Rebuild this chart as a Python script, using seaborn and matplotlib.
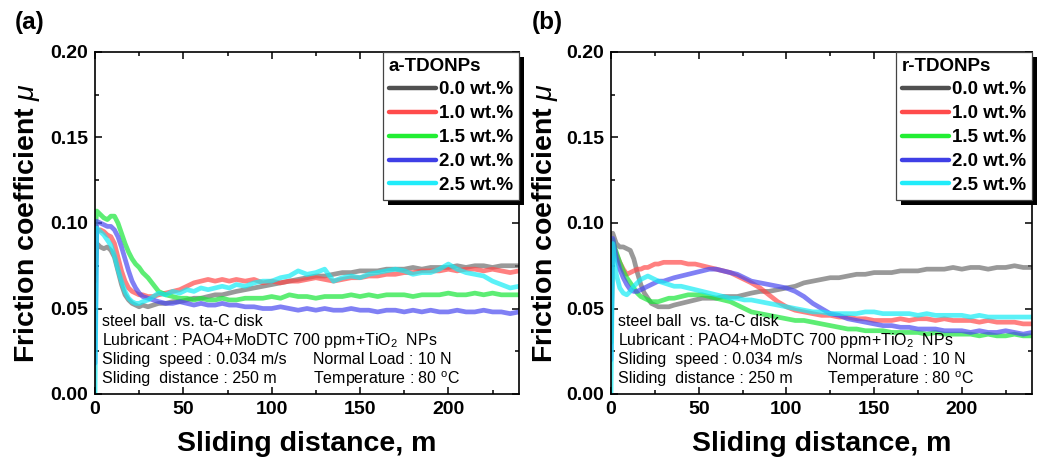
import matplotlib
matplotlib.use("Agg")
import matplotlib.pyplot as plt
import seaborn as sns
import pandas as pd
from matplotlib.ticker import MultipleLocator
from matplotlib.patches import Rectangle
from matplotlib.transforms import IdentityTransform

sns.set_style("ticks")
plt.rcParams['font.family'] = ['Liberation Sans', 'DejaVu Sans']
plt.rcParams['mathtext.fontset'] = 'custom'
plt.rcParams['mathtext.rm'] = 'Liberation Sans'
plt.rcParams['mathtext.it'] = 'Liberation Sans:italic'
plt.rcParams['mathtext.bf'] = 'Liberation Sans:bold'
plt.rcParams['text.color'] = 'black'
plt.rcParams['axes.labelcolor'] = 'black'
plt.rcParams['xtick.color'] = 'black'
plt.rcParams['ytick.color'] = 'black'

# ---------------- data ----------------
X = [0, 1, 3, 5, 7, 9, 11, 13, 15, 17, 19, 21, 23, 25, 27, 30, 33, 36, 40, 44, 48, 52, 56, 60,
     64, 68, 72, 76, 80, 85, 90, 95, 100, 105, 110, 115, 120, 125, 130, 135, 140, 145, 150, 155,
     160, 165, 170, 175, 180, 185, 190, 195, 200, 205, 210, 215, 220, 225, 230, 235, 240]

labels = ["0.0 wt.%", "1.0 wt.%", "1.5 wt.%", "2.0 wt.%", "2.5 wt.%"]

a_00 = [0.070, 0.088, 0.086, 0.085, 0.086, 0.084, 0.080, 0.072, 0.064, 0.058, 0.055, 0.053, 0.052, 0.051, 0.052,
        0.051, 0.052, 0.053, 0.053, 0.054, 0.054, 0.055, 0.056, 0.056, 0.057, 0.058, 0.058, 0.059, 0.060, 0.061,
        0.062, 0.063, 0.064, 0.065, 0.066, 0.067, 0.068, 0.069, 0.069, 0.070, 0.071, 0.071, 0.072, 0.072, 0.072,
        0.073, 0.073, 0.073, 0.074, 0.073, 0.074, 0.074, 0.074, 0.075, 0.074, 0.075, 0.075, 0.074, 0.075, 0.075, 0.075]
a_10 = [0.066, 0.095, 0.096, 0.095, 0.093, 0.092, 0.088, 0.080, 0.072, 0.066, 0.062, 0.060, 0.059, 0.058, 0.058,
        0.057, 0.057, 0.058, 0.059, 0.060, 0.061, 0.063, 0.065, 0.066, 0.067, 0.066, 0.067, 0.066, 0.067, 0.066,
        0.067, 0.065, 0.066, 0.065, 0.066, 0.066, 0.067, 0.068, 0.067, 0.066, 0.067, 0.068, 0.068, 0.069, 0.069,
        0.070, 0.070, 0.071, 0.071, 0.072, 0.072, 0.072, 0.073, 0.072, 0.073, 0.073, 0.072, 0.073, 0.072, 0.071, 0.072]
a_15 = [0.095, 0.107, 0.105, 0.103, 0.102, 0.104, 0.104, 0.100, 0.094, 0.088, 0.083, 0.079, 0.076, 0.074, 0.071,
        0.068, 0.064, 0.060, 0.058, 0.057, 0.056, 0.056, 0.055, 0.056, 0.055, 0.055, 0.056, 0.055, 0.055, 0.056,
        0.056, 0.056, 0.057, 0.056, 0.058, 0.057, 0.057, 0.056, 0.057, 0.057, 0.057, 0.058, 0.057, 0.058, 0.057,
        0.058, 0.058, 0.058, 0.057, 0.058, 0.058, 0.058, 0.059, 0.058, 0.058, 0.059, 0.058, 0.059, 0.058, 0.058, 0.058]
a_20 = [0.018, 0.101, 0.100, 0.099, 0.098, 0.098, 0.096, 0.092, 0.086, 0.079, 0.072, 0.066, 0.062, 0.059, 0.057,
        0.056, 0.055, 0.054, 0.053, 0.053, 0.054, 0.053, 0.052, 0.053, 0.052, 0.052, 0.053, 0.052, 0.052, 0.051,
        0.051, 0.050, 0.050, 0.051, 0.050, 0.049, 0.050, 0.049, 0.050, 0.049, 0.049, 0.050, 0.049, 0.049, 0.048,
        0.049, 0.049, 0.048, 0.049, 0.048, 0.049, 0.048, 0.048, 0.049, 0.048, 0.048, 0.049, 0.048, 0.048, 0.047, 0.048]
a_25 = [0.000, 0.097, 0.095, 0.093, 0.090, 0.087, 0.081, 0.073, 0.066, 0.060, 0.056, 0.054, 0.053, 0.053, 0.054,
        0.055, 0.057, 0.059, 0.058, 0.060, 0.059, 0.061, 0.060, 0.062, 0.061, 0.062, 0.063, 0.062, 0.064, 0.063,
        0.065, 0.066, 0.066, 0.068, 0.069, 0.072, 0.070, 0.071, 0.073, 0.066, 0.068, 0.069, 0.068, 0.070, 0.071,
        0.072, 0.073, 0.072, 0.070, 0.071, 0.071, 0.073, 0.076, 0.073, 0.071, 0.070, 0.069, 0.066, 0.064, 0.062, 0.063]

b_00 = [0.093, 0.094, 0.088, 0.086, 0.086, 0.085, 0.084, 0.079, 0.071, 0.064, 0.059, 0.056, 0.053, 0.052, 0.051,
        0.051, 0.051, 0.052, 0.053, 0.054, 0.055, 0.056, 0.056, 0.056, 0.057, 0.057, 0.057, 0.058, 0.059, 0.060,
        0.060, 0.061, 0.062, 0.063, 0.065, 0.066, 0.067, 0.068, 0.068, 0.069, 0.070, 0.070, 0.071, 0.071, 0.071,
        0.072, 0.072, 0.072, 0.073, 0.073, 0.073, 0.074, 0.073, 0.074, 0.074, 0.073, 0.074, 0.074, 0.075, 0.074, 0.074]
b_10 = [0.090, 0.088, 0.082, 0.077, 0.073, 0.070, 0.071, 0.072, 0.073, 0.073, 0.074, 0.074, 0.075, 0.076, 0.076,
        0.077, 0.077, 0.077, 0.077, 0.076, 0.076, 0.075, 0.074, 0.073, 0.072, 0.071, 0.069, 0.067, 0.065, 0.062,
        0.058, 0.054, 0.051, 0.049, 0.048, 0.047, 0.046, 0.046, 0.045, 0.045, 0.044, 0.044, 0.043, 0.043, 0.043,
        0.044, 0.043, 0.044, 0.044, 0.043, 0.044, 0.043, 0.043, 0.043, 0.042, 0.043, 0.042, 0.042, 0.042, 0.041, 0.041]
b_15 = [0.030, 0.090, 0.083, 0.077, 0.072, 0.068, 0.065, 0.062, 0.059, 0.057, 0.056, 0.055, 0.054, 0.054, 0.054,
        0.055, 0.056, 0.056, 0.057, 0.058, 0.058, 0.058, 0.057, 0.056, 0.055, 0.054, 0.052, 0.050, 0.048, 0.047,
        0.046, 0.045, 0.044, 0.043, 0.043, 0.042, 0.041, 0.040, 0.039, 0.038, 0.038, 0.037, 0.037, 0.037, 0.036,
        0.036, 0.036, 0.036, 0.035, 0.036, 0.035, 0.035, 0.035, 0.035, 0.034, 0.035, 0.034, 0.034, 0.035, 0.034, 0.034]
b_20 = [0.020, 0.091, 0.080, 0.073, 0.068, 0.064, 0.061, 0.060, 0.060, 0.061, 0.062, 0.063, 0.064, 0.065, 0.066,
        0.066, 0.067, 0.068, 0.069, 0.070, 0.071, 0.072, 0.073, 0.073, 0.072, 0.071, 0.070, 0.068, 0.066, 0.065,
        0.064, 0.063, 0.062, 0.060, 0.057, 0.053, 0.050, 0.047, 0.046, 0.044, 0.043, 0.042, 0.041, 0.040, 0.040,
        0.039, 0.039, 0.038, 0.038, 0.038, 0.037, 0.037, 0.037, 0.036, 0.037, 0.036, 0.036, 0.037, 0.036, 0.035, 0.036]
b_25 = [0.000, 0.088, 0.070, 0.062, 0.059, 0.058, 0.060, 0.063, 0.065, 0.067, 0.068, 0.069, 0.068, 0.067, 0.066,
        0.065, 0.064, 0.063, 0.063, 0.062, 0.061, 0.060, 0.059, 0.058, 0.057, 0.056, 0.056, 0.055, 0.055, 0.054,
        0.053, 0.052, 0.051, 0.050, 0.049, 0.048, 0.048, 0.047, 0.047, 0.047, 0.047, 0.048, 0.048, 0.047, 0.047,
        0.047, 0.047, 0.046, 0.047, 0.046, 0.046, 0.046, 0.046, 0.045, 0.046, 0.045, 0.045, 0.045, 0.045, 0.045, 0.045]

series_a = [a_00, a_10, a_15, a_20, a_25]
series_b = [b_00, b_10, b_15, b_20, b_25]

line_colors = ["#6e6e6e", "#ff4a4a", "#19e639", "#4a4af0", "#14ecf5"]
legend_colors = ["#505050", "#ff4b4b", "#22ee33", "#3f3fe6", "#20ecfa"]

# ---------------- figure ----------------
W, H = 1046, 466
fig = plt.figure(figsize=(W / 100, H / 100), dpi=100)
ax_a = fig.add_axes([95 / W, 1 - 394 / H, (519 - 95) / W, (394 - 52) / H])
ax_b = fig.add_axes([611 / W, 1 - 394 / H, (1032 - 611) / W, (394 - 52) / H])

info_left = ["steel ball  vs. ta-C disk",
             "Lubricant : PAO4+MoDTC 700 ppm+TiO$_2$  NPs",
             "Sliding  speed : 0.034 m/s",
             "Sliding  distance : 250 m"]
info_right = ["Normal Load : 10 N", "Temperature : 80 $^{\\mathrm{o}}$C"]

legends = []


def draw(ax, series, title, panel, label_x):
    for vals, lab, col in zip(series, labels, line_colors):
        df = pd.DataFrame({"x": X, "y": vals})
        sns.lineplot(data=df, x="x", y="y", ax=ax, color=col, lw=3.4, alpha=0.7,
                     label=lab, estimator=None, sort=False)
    ax.set_xlim(0, 240)
    ax.set_ylim(0, 0.20)
    ax.xaxis.set_major_locator(MultipleLocator(50))
    ax.xaxis.set_minor_locator(MultipleLocator(25))
    ax.yaxis.set_major_locator(MultipleLocator(0.05))
    ax.yaxis.set_minor_locator(MultipleLocator(0.025))
    ax.yaxis.set_major_formatter(matplotlib.ticker.FormatStrFormatter("%.2f"))
    ax.tick_params(which="both", direction="in", top=True, right=True, width=1.1,
                   labelsize=14, colors="black")
    ax.tick_params(which="major", length=5, pad=5)
    ax.tick_params(which="minor", length=3)
    for t in ax.get_xticklabels() + ax.get_yticklabels():
        t.set_fontweight("bold")
    for s in ax.spines.values():
        s.set_linewidth(1.2)
        s.set_color("black")
    ax.set_xlabel("Sliding distance, m", fontsize=20.5, fontweight="bold", color="black")
    ax.set_ylabel("Friction coefficient $\\mathit{\\mu}$", fontsize=20.5, fontweight="bold",
                  color="black")
    ax.xaxis.set_label_coords(0.5, -0.108)
    ax.yaxis.set_label_coords(label_x, 0.5)

    ys = [0.213, 0.157, 0.100, 0.044]
    for yy, txt in zip(ys, info_left):
        ax.text(0.0165, yy, txt, transform=ax.transAxes, fontsize=11.5, va="center", ha="left",
                color="black")
    for yy, txt in zip(ys[2:], info_right):
        ax.text(0.514, yy, txt, transform=ax.transAxes, fontsize=11.5, va="center", ha="left",
                color="black")

    leg = ax.legend(loc="upper right", bbox_to_anchor=(1.0, 1.0), borderaxespad=0,
                    title=title, fontsize=13.5, title_fontproperties={"weight": "bold", "size": 13.5},
                    alignment="left", handlelength=2.5, handletextpad=0.2, labelspacing=0.36,
                    borderpad=0.3, frameon=True, fancybox=False, shadow=False)
    leg.get_frame().set_edgecolor("#444444")
    leg.get_frame().set_linewidth(0.9)
    leg.get_frame().set_alpha(1.0)
    leg.get_title().set_color("black")
    for ln, c in zip(leg.get_lines(), legend_colors):
        ln.set_color(c)
        ln.set_alpha(1.0)
        ln.set_linewidth(3.2)
    for t in leg.get_texts():
        t.set_fontweight("bold")
        t.set_color("black")
    legends.append((ax, leg))

    fig.text(panel[1], 1 - 22 / H, panel[0], fontsize=17.5, fontweight="bold",
             ha="center", va="center", color="black")


draw(ax_a, series_a, "a-TDONPs", ("(a)", 30 / W), -0.125)
draw(ax_b, series_b, "r-TDONPs", ("(b)", 547 / W), -0.12)

# black drop shadow behind each legend box
fig.canvas.draw()
for ax, leg in legends:
    bb = leg.get_window_extent()
    shadow = Rectangle((bb.x0 + 5, bb.y0 - 5), bb.width, bb.height, transform=IdentityTransform(),
                       facecolor="black", edgecolor="none", zorder=leg.get_zorder() - 0.1,
                       clip_on=False)
    ax.add_artist(shadow)

fig.savefig("out.png", dpi=100)
